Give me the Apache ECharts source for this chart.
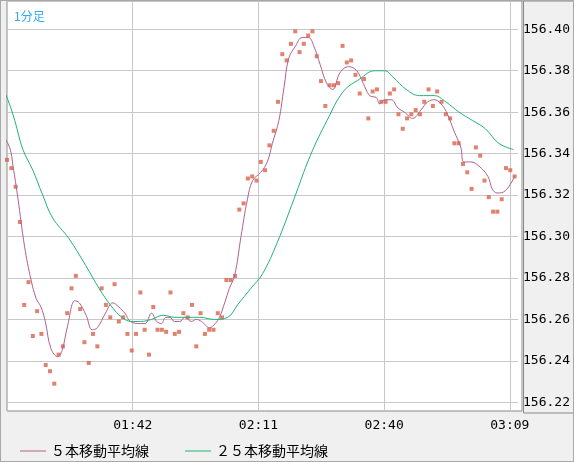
<!DOCTYPE html>
<html>
<head>
<meta charset="utf-8">
<script src="https://cdn.jsdelivr.net/npm/echarts@6/dist/echarts.min.js"></script>
<style>
  html, body { margin: 0; padding: 0; background: #f0f0f0; }
  #chart { width: 574px; height: 462px; box-sizing: border-box; border: 1px solid #a8a8a8; }
</style>
</head>
<body>
<div id="chart"></div>
<script>
// minutes from 01:13, one close per minute
var startMinute = 73;
var closes = [
  156.337, 156.333, 156.324, 156.307, 156.267, 156.278, 156.252, 156.264, 156.253, 156.238,
  156.235, 156.229, 156.243, 156.247, 156.263, 156.275, 156.281, 156.265, 156.249, 156.239,
  156.253, 156.247, 156.275, 156.267, 156.261, 156.277, 156.259, 156.261, 156.253, 156.245,
  156.253, 156.273, 156.255, 156.243, 156.266, 156.255, 156.255, 156.254, 156.273, 156.253,
  156.254, 156.263, 156.261, 156.267, 156.247, 156.263, 156.253, 156.255, 156.255, 156.263,
  156.261, 156.279, 156.279, 156.281, 156.313, 156.316, 156.328, 156.329, 156.327, 156.336,
  156.332, 156.344, 156.351, 156.365, 156.388, 156.385, 156.393, 156.399, 156.389, 156.393,
  156.397, 156.399, 156.387, 156.375, 156.363, 156.373, 156.373, 156.374, 156.392, 156.384,
  156.385, 156.378, 156.369, 156.376, 156.357, 156.370, 156.371, 156.365, 156.365, 156.369,
  156.371, 156.359, 156.352, 156.357, 156.359, 156.361, 156.359, 156.365, 156.371, 156.363,
  156.370, 156.365, 156.359, 156.357, 156.345, 156.345, 156.335, 156.331, 156.323, 156.343,
  156.339, 156.327, 156.319, 156.312, 156.312, 156.318, 156.333, 156.332, 156.329
];
// [minute index, value] read along the 5-bar average
var ma5 = [
  [-1.3,156.350],[0.6,156.343],[1.4,156.334],[2.5,156.319],[4.1,156.295],[5.6,156.279],[6.8,156.270],
  [7.9,156.266],[8.9,156.259],[10.2,156.246],[11.8,156.242],[12.8,156.245],[14.1,156.257],[15.8,156.269],
  [16.8,156.268],[18.4,156.262],[19.8,156.255],[21.0,156.256],[22.9,156.263],[24.6,156.268],[26.0,156.266],
  [27.4,156.263],[28.7,156.259],[31.0,156.258],[32.1,156.258],[33.6,156.263],[34.8,156.259],[35.9,156.258],
  [36.9,156.261],[37.9,156.261],[38.9,156.259],[40.2,156.259],[41.3,156.261],[42.9,156.259],[44.0,156.260],
  [45.2,156.259],[47.1,156.256],[48.4,156.258],[49.4,156.261],[50.6,156.268],[51.7,156.275],[52.9,156.281],
  [54.4,156.300],[55.9,156.318],[57.1,156.327],[59.0,156.331],[60.5,156.336],[61.7,156.345],[63.2,156.356],
  [64.4,156.372],[65.5,156.386],[67.1,156.392],[68.6,156.396],[70.1,156.396],[71.3,156.392],[72.8,156.383],
  [74.3,156.374],[75.7,156.371],[77.4,156.379],[79.4,156.382],[81.3,156.380],[82.8,156.374],[84.3,156.368],
  [85.9,156.367],[86.6,156.364],[87.8,156.366],[89.3,156.366],[90.9,156.362],[92.4,156.360],[94.3,156.357],
  [96.2,156.361],[97.8,156.365],[99.3,156.366],[100.9,156.364],[102.4,156.359],[103.9,156.351],[105.5,156.343],
  [106.2,156.336],[107.8,156.336],[109.7,156.334],[111.8,156.329],[112.8,156.323],[113.9,156.321],[115.8,156.322],
  [118.0,156.329]
];
// [minute index, value] read along the 25-bar average
var ma25 = [
  [-1.3,156.373],[0.2,156.366],[1.8,156.356],[3.7,156.342],[6.0,156.332],[8.3,156.320],[10.6,156.309],
  [14.4,156.299],[18.3,156.286],[21.4,156.275],[24.4,156.266],[26.7,156.261],[29.0,156.259],[31.0,156.259],
  [33.6,156.260],[36.3,156.262],[39.0,156.261],[41.7,156.261],[44.8,156.261],[48.2,156.260],[51.3,156.261],
  [53.6,156.267],[56.7,156.275],[59.4,156.282],[62.8,156.297],[66.7,156.318],[70.5,156.339],[74.4,156.356],
  [78.2,156.370],[82.0,156.376],[85.5,156.380],[87.8,156.380],[89.7,156.377],[92.8,156.371],[95.9,156.368],
  [99.3,156.368],[102.0,156.365],[105.1,156.360],[108.2,156.356],[111.2,156.352],[114.3,156.345],[117.7,156.342]
];
var seriesNames = ['５本移動平均線', '２５本移動平均線'];
var chartTitle = '1分足';

function minuteLabel(i) {
  var m = startMinute + Math.round(i);
  var h = Math.floor(m / 60), mm = m % 60;
  return (h < 10 ? '0' : '') + h + ':' + (mm < 10 ? '0' : '') + mm;
}

var monoFont = '"DejaVu Sans Mono", monospace';
var chart = echarts.init(document.getElementById('chart'));
var option = {
  animation: false,
  backgroundColor: '#f0f0f0',
  title: {
    text: chartTitle, left: 8, top: 4,
    textStyle: { color: '#33aaee', fontSize: 12, fontWeight: 'normal', fontFamily: 'Noto Sans CJK JP' }
  },
  legend: {
    left: 14, top: 438, itemGap: 36, itemWidth: 26, itemHeight: 1, icon: 'rect',
    textStyle: { color: '#000', fontSize: 14, fontFamily: 'Noto Sans CJK JP' },
    data: seriesNames
  },
  grid: [
    { left: 6, right: 51, top: -1, bottom: 50, show: true, backgroundColor: '#fff', borderColor: '#888', borderWidth: 1 },
    { left: 6, right: 51, top: 28.3, bottom: 58.7 }
  ],
  xAxis: [
    {
      gridIndex: 0, type: 'value', min: 0, max: 118.8, interval: 29,
      axisLine: { show: false }, axisTick: { show: false },
      axisLabel: { showMinLabel: false, showMaxLabel: false, color: '#000', fontSize: 13, fontFamily: monoFont, margin: 8,
        formatter: function (v) { return minuteLabel(v); } },
      splitLine: { lineStyle: { color: '#c8c8c8', width: 1 } }
    },
    { gridIndex: 1, type: 'value', min: 0, max: 118.8, show: false }
  ],
  yAxis: [
    { gridIndex: 0, type: 'value', show: false },
    {
      gridIndex: 1, type: 'value', position: 'right', min: 156.22, max: 156.40, interval: 0.02,
      axisLine: { show: false }, axisTick: { show: false },
      axisLabel: { color: '#000', fontSize: 13, fontFamily: monoFont, margin: 5,
        formatter: function (v) { return v.toFixed(2); } },
      splitLine: { lineStyle: { color: '#c8c8c8', width: 1 } }
    }
  ],
  graphic: [
    { type: 'rect', shape: { x: 522.5, y: 0, width: 52, height: 412 }, style: { fill: '#f0f0f0', stroke: '#888', lineWidth: 1 }, z: -1, silent: true }
  ],
  series: [
    {
      type: 'scatter', xAxisIndex: 1, yAxisIndex: 1, symbol: 'rect', symbolSize: 4,
      itemStyle: { color: '#d9634a' }, clip: false,
      data: closes.map(function (v, i) { return [i, v]; })
    },
    {
      name: seriesNames[0], type: 'line', xAxisIndex: 1, yAxisIndex: 1, smooth: 0.4, symbol: 'none', clip: false,
      lineStyle: { color: '#b3608a', width: 1 }, itemStyle: { color: '#b3608a' }, data: ma5
    },
    {
      name: seriesNames[1], type: 'line', xAxisIndex: 1, yAxisIndex: 1, smooth: 0.4, symbol: 'none', clip: false,
      lineStyle: { color: '#20b27a', width: 1 }, itemStyle: { color: '#20b27a' }, data: ma25
    }
  ]
};
chart.setOption(option);
window.addEventListener('resize', function () { chart.resize(); });
</script>
</body>
</html>
